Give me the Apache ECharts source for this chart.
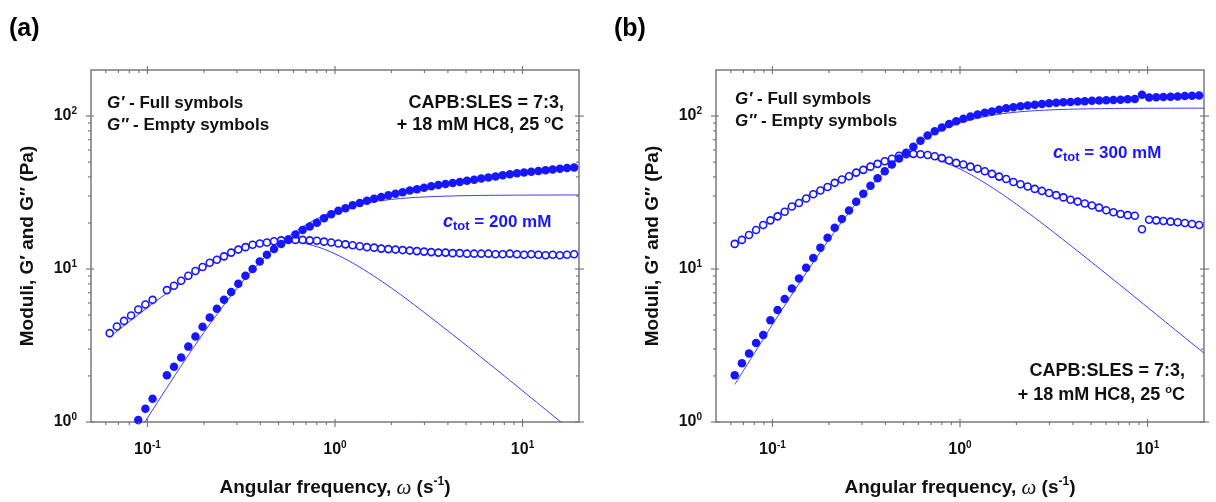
<!DOCTYPE html>
<html>
<head>
<meta charset="utf-8">
<script src="https://cdn.jsdelivr.net/npm/echarts@6/dist/echarts.min.js"></script>
<style>
  html, body { margin: 0; padding: 0; background: #fff; }
  #chart { width: 1216px; height: 502px; }
</style>
</head>
<body>
<div id="chart"></div>
<script>
// Angular frequencies of the sweep (rad/s), shared by both panels
const omega = [
  0.0629,0.0687,0.0750,0.0818,0.0893,0.0975,0.1065,0.1162,0.1269,0.1385,
  0.1512,0.1651,0.1802,0.1967,0.2148,0.2345,0.2560,0.2795,0.3051,0.3331,
  0.3636,0.3970,0.4334,0.4731,0.5164,0.5638,0.6155,0.6720,0.7336,0.8009,
  0.8743,0.9544,1.042,1.137,1.242,1.356,1.480,1.616,1.764,1.926,
  2.102,2.295,2.505,2.735,2.985,3.259,3.558,3.884,4.240,4.629,
  5.053,5.517,6.023,6.575,7.178,7.836,8.554,9.339,10.19,11.13,
  12.15,13.27,14.48,15.81,17.26,18.84
];
// Panel (a): c_tot = 200 mM
const gStorageA = [
  null,null,null,null,1.03,1.22,1.42,null,2.02,2.30,
  2.64,3.11,3.62,4.19,4.82,5.50,6.30,7.07,8.01,9.04,
  10.0,11.2,12.4,13.5,14.6,15.6,16.8,18.0,19.0,20.1,
  21.5,22.8,24.0,25.0,26.1,27.0,27.9,28.8,29.6,30.4,
  31.1,31.8,32.6,33.2,34.0,34.7,35.4,35.9,36.5,37.0,
  37.7,38.3,39.0,39.7,40.3,41.0,41.6,42.2,42.8,43.3,
  43.8,44.3,44.8,45.2,45.7,46.1
];
const gLossA = [
  3.81,4.21,4.58,4.97,5.44,5.86,6.29,null,7.28,7.78,
  8.38,9.04,9.70,10.3,11.0,11.5,12.1,12.8,13.4,13.9,
  14.4,14.7,14.9,15.2,15.4,15.5,15.5,15.5,15.4,15.3,
  15.1,14.9,14.7,14.5,14.3,14.1,13.9,13.8,13.6,13.5,
  13.4,13.3,13.2,13.1,13.0,12.9,12.8,12.8,12.7,12.7,
  12.6,12.6,12.6,12.6,12.5,12.5,12.6,12.5,12.4,12.5,
  12.4,12.3,12.4,12.3,12.4,12.5
];
// Panel (b): c_tot = 300 mM
const gStorageB = [
  2.02,2.42,2.80,3.28,3.71,4.63,5.39,6.36,7.47,8.67,
  10.2,11.8,13.8,16.0,18.6,21.2,24.1,27.5,31.1,35.0,
  39.2,43.6,48.2,52.7,57.5,63.0,69.0,74.5,79.5,84.2,
  88.7,92.6,96.0,99.4,102.5,105.2,107.2,109.9,112.4,114.2,
  115.8,117.4,118.7,120.0,121.1,122.0,122.9,123.6,124.3,125.0,
  125.8,126.4,126.9,127.4,128.0,128.6,129.4,138.0,132.0,132.6,
  133.2,133.8,134.4,135.0,135.6,136.3
];
const gLossB = [
  14.6,15.5,16.7,18.0,19.4,20.8,22.1,23.7,25.6,27.0,
  28.9,30.8,32.6,34.4,36.6,38.5,40.4,42.7,44.5,46.7,
  48.7,50.7,52.6,55.0,56.3,56.6,56.3,55.7,54.6,53.1,
  51.2,49.4,48.2,46.7,45.2,43.6,41.9,40.2,38.8,37.1,
  35.8,34.6,33.4,32.4,31.4,30.4,29.4,28.4,27.6,26.8,
  26.0,25.2,24.2,23.5,22.9,22.5,22.3,18.2,21.0,20.8,
  20.6,20.4,20.2,20.0,19.7,19.4
];
// Model (fit) curves
const modelOmega = [0.063,0.08,0.1,0.125,0.16,0.2,0.25,0.32,0.4,0.5,0.63,0.8,1,1.25,1.6,2,2.5,3.2,4,5,6.3,8,10,12.5,16,20];
const modelStorageA = [0.431,0.689,1.063,1.628,2.58,3.85,5.61,8.23,11.17,14.47,17.96,21.29,23.88,25.91,27.52,28.52,29.21,29.70,29.98,30.17,30.29,30.37,30.42,30.45,30.47,30.48];
const modelLossA = [3.60,4.53,5.59,6.86,8.49,10.13,11.82,13.54,14.69,15.23,15.01,14.01,12.57,10.91,9.05,7.51,6.15,4.88,3.94,3.18,2.53,2.00,1.60,1.28,1.00,0.80];
const modelStorageB = [1.762,2.813,4.335,6.63,10.47,15.54,22.54,32.75,43.98,56.35,69.15,81.04,90.16,97.16,102.67,106.07,108.37,110.01,110.97,111.58,111.99,112.26,112.42,112.52,112.59,112.63];
const modelLossB = [14.2,17.5,21.3,25.8,31.0,35.2,40.5,47.0,51.5,55.5,55.0,50.65,45.08,38.86,32.09,26.52,21.67,17.19,13.87,11.16,8.89,7.02,5.62,4.50,3.52,2.82];

// Axis ranges and ticks
const xRange = [0.05, 20];
const yRange = [1, 200];
const xMajor = [0.1, 1, 10];
const yMajor = [1, 10, 100];
const xMinor = [0.06,0.07,0.08,0.09,0.2,0.3,0.4,0.5,0.6,0.7,0.8,0.9,2,3,4,5,6,7,8,9];
const yMinor = [2,3,4,5,6,7,8,9,20,30,40,50,60,70,80,90];

const BLUE = '#1616ff';
const LINE_BLUE = '#3b3bff';
const AXIS = '#7a7a7a';
const SANS = 'Liberation Sans, Arial, sans-serif';

function pairs(xs, ys) {
  const out = [];
  xs.forEach((x, i) => { if (ys[i] != null) out.push([x, ys[i]]); });
  return out;
}

function powFmt(v) {
  const l = Math.log10(v);
  const e = Math.round(l);
  if (Math.abs(l - e) > 1e-6) return '';
  return '{b|10}{s|' + (e < 0 ? '-' + (-e) : e) + '}';
}
const tickRich = {
  b: { fontSize: 16, fontWeight: 'bold', fontFamily: SANS, color: '#111', lineHeight: 20 },
  s: { fontSize: 10, fontWeight: 'bold', fontFamily: SANS, color: '#111', verticalAlign: 'top', lineHeight: 10 }
};

function xAxisFor(g) {
  return {
    type: 'log', logBase: 10, gridIndex: g, min: xRange[0], max: xRange[1],
    splitNumber: 2,
    axisLine: { show: false }, axisTick: { show: false }, splitLine: { show: false },
    axisLabel: { customValues: xMajor, formatter: powFmt, rich: tickRich, margin: 18 },
    name: '{n|Angular frequency, }{w|\u03c9}{n| (s}{s|-1}{n|)}',
    nameLocation: 'middle', nameGap: 54,
    nameTextStyle: {
      rich: {
        n: { fontSize: 19, fontWeight: 'bold', fontFamily: SANS, color: '#111', lineHeight: 24 },
        w: { fontSize: 21, fontStyle: 'italic', fontFamily: 'Liberation Serif, DejaVu Serif, serif', color: '#111', lineHeight: 24 },
        s: { fontSize: 12, fontWeight: 'bold', fontFamily: SANS, color: '#111', verticalAlign: 'top', lineHeight: 12 }
      }
    }
  };
}
function yAxisFor(g) {
  return {
    type: 'log', logBase: 10, gridIndex: g, min: yRange[0], max: yRange[1],
    splitNumber: 2,
    axisLine: { show: false }, axisTick: { show: false }, splitLine: { show: false },
    axisLabel: { customValues: yMajor, formatter: powFmt, rich: tickRich, margin: 14 },
    name: 'Moduli, G\u2032 and G\u2033 (Pa)',
    nameLocation: 'middle', nameGap: 54, nameRotate: 90,
    nameTextStyle: { fontSize: 19, fontWeight: 'bold', fontFamily: SANS, color: '#111' }
  };
}

function tickSeries(g, vals, axis, major) {
  return {
    type: 'custom', xAxisIndex: g, yAxisIndex: g, silent: true, clip: false, z: 10,
    data: vals.map(v => axis === 'x' ? [v, yRange[0]] : [xRange[0], v]),
    renderItem: (params, api) => {
      const st = { stroke: AXIS, lineWidth: 1.2 };
      if (axis === 'x') {
        const v = api.value(0);
        const b = api.coord([v, yRange[0]]);
        const t = api.coord([v, yRange[1]]);
        const bl = major ? [b[1] - 3, b[1] + 5] : [b[1], b[1] + 3];
        const tl = major ? [t[1] - 4, t[1] + 4] : [t[1], t[1] + 3];
        return { type: 'group', children: [
          { type: 'line', shape: { x1: b[0], y1: bl[0], x2: b[0], y2: bl[1] }, style: st },
          { type: 'line', shape: { x1: t[0], y1: tl[0], x2: t[0], y2: tl[1] }, style: st }
        ] };
      } else {
        const v = api.value(1);
        const l = api.coord([xRange[0], v]);
        const r = api.coord([xRange[1], v]);
        const ll = major ? [l[0] - 5, l[0] + 3] : [l[0] - 3, l[0]];
        const rl = major ? [r[0] - 4, r[0] + 5] : [r[0] - 3, r[0]];
        return { type: 'group', children: [
          { type: 'line', shape: { x1: ll[0], y1: l[1], x2: ll[1], y2: l[1] }, style: st },
          { type: 'line', shape: { x1: rl[0], y1: r[1], x2: rl[1], y2: r[1] }, style: st }
        ] };
      }
    }
  };
}

function panelSeries(g, gs, gl, ms, ml) {
  return [
    { type: 'line', xAxisIndex: g, yAxisIndex: g, data: pairs(modelOmega, ms), showSymbol: false, smooth: 0.3,
      lineStyle: { color: LINE_BLUE, width: 1 }, z: 2, clip: true },
    { type: 'line', xAxisIndex: g, yAxisIndex: g, data: pairs(modelOmega, ml), showSymbol: false, smooth: 0.3,
      lineStyle: { color: LINE_BLUE, width: 1 }, z: 2, clip: true },
    { type: 'scatter', xAxisIndex: g, yAxisIndex: g, data: pairs(omega, gl), symbol: 'circle', symbolSize: 7,
      itemStyle: { color: '#ffffff', borderColor: BLUE, borderWidth: 1.6, opacity: 1 }, z: 3, clip: true },
    { type: 'scatter', xAxisIndex: g, yAxisIndex: g, data: pairs(omega, gs), symbol: 'circle', symbolSize: 8.5,
      itemStyle: { color: BLUE, opacity: 1 }, z: 4, clip: true },
    tickSeries(g, xMajor, 'x', true), tickSeries(g, xMinor, 'x', false),
    tickSeries(g, yMajor, 'y', true), tickSeries(g, yMinor, 'y', false)
  ];
}

const annRich = {
  gi: { fontSize: 17, fontWeight: 'bold', fontStyle: 'italic', fontFamily: SANS, fill: '#111', color: '#111' },
  n: { fontSize: 17, fontWeight: 'bold', fontFamily: SANS, fill: '#111', color: '#111' },
  m: { fontSize: 18, fontWeight: 'bold', fontFamily: SANS, fill: '#111', color: '#111', lineHeight: 22 },
  o: { fontSize: 11, fontWeight: 'bold', fontFamily: SANS, fill: '#111', color: '#111', verticalAlign: 'top', lineHeight: 11 },
  ci: { fontSize: 18, fontWeight: 'bold', fontStyle: 'italic', fontFamily: SANS, fill: BLUE, color: BLUE, lineHeight: 22 },
  sub: { fontSize: 13, fontWeight: 'bold', fontFamily: SANS, fill: BLUE, color: BLUE, verticalAlign: 'bottom', lineHeight: 13 },
  cb: { fontSize: 17, fontWeight: 'bold', fontFamily: SANS, fill: BLUE, color: BLUE, lineHeight: 22 }
};
function txt(x, y, text, align) {
  return { type: 'text', x: x, y: y, z: 20, silent: true,
    style: { text: text, rich: annRich, align: align || 'left', verticalAlign: 'middle',
      textAlign: align || 'left', textVerticalAlign: 'middle', font: 'bold 17px ' + SANS, fill: '#111' } };
}

const option = {
  backgroundColor: '#ffffff',
  animation: false,
  grid: [
    { left: 91, top: 70, width: 488, height: 352, outerBoundsMode: 'none', containLabel: false,
      show: true, borderColor: AXIS, borderWidth: 1.5, backgroundColor: 'transparent' },
    { left: 716, top: 70, width: 488, height: 352, outerBoundsMode: 'none', containLabel: false,
      show: true, borderColor: AXIS, borderWidth: 1.5, backgroundColor: 'transparent' }
  ],
  xAxis: [xAxisFor(0), xAxisFor(1)],
  yAxis: [yAxisFor(0), yAxisFor(1)],
  series: [].concat(
    panelSeries(0, gStorageA, gLossA, modelStorageA, modelLossA),
    panelSeries(1, gStorageB, gLossB, modelStorageB, modelLossB)
  ),
  graphic: [
    { type: 'text', x: 9, y: 29, silent: true, style: { text: '(a)', font: 'bold 25px ' + SANS, fill: '#000', verticalAlign: 'middle', textVerticalAlign: 'middle' } },
    { type: 'text', x: 614, y: 29, silent: true, style: { text: '(b)', font: 'bold 25px ' + SANS, fill: '#000', verticalAlign: 'middle', textVerticalAlign: 'middle' } },
    txt(107, 103, '{gi|G\u2032}{n| - Full symbols}'),
    txt(107, 125, '{gi|G\u2033}{n| - Empty symbols}'),
    txt(564, 103, '{m|CAPB:SLES = 7:3,}', 'right'),
    txt(564, 125, '{m|+ 18 mM HC8, 25 }{o|o}{m|C}', 'right'),
    txt(443, 222, '{ci|c}{sub|tot}{cb| = 200 mM}'),
    txt(735, 99, '{gi|G\u2032}{n| - Full symbols}'),
    txt(735, 121, '{gi|G\u2033}{n| - Empty symbols}'),
    txt(1185, 371, '{m|CAPB:SLES = 7:3,}', 'right'),
    txt(1185, 395, '{m|+ 18 mM HC8, 25 }{o|o}{m|C}', 'right'),
    txt(1053, 153, '{ci|c}{sub|tot}{cb| = 300 mM}')
  ]
};

const chart = echarts.init(document.getElementById('chart'), null, { renderer: 'canvas' });
chart.setOption(option);
</script>
</body>
</html>
